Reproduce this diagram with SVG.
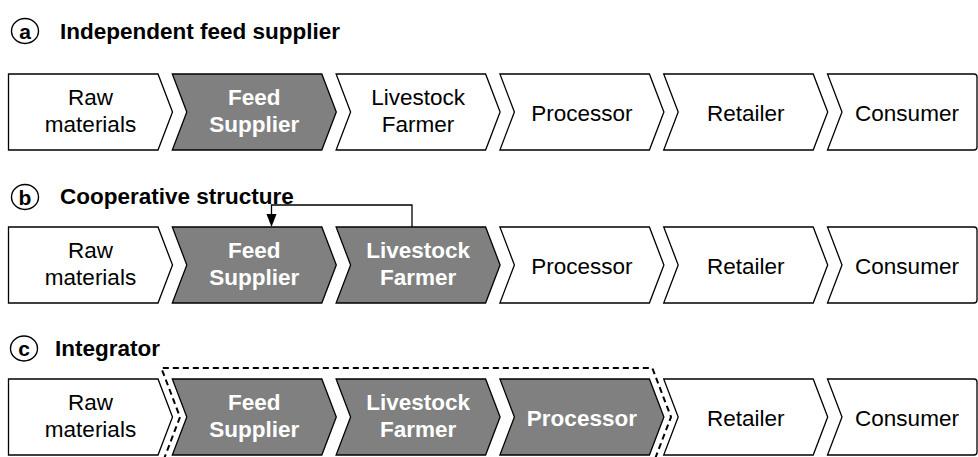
<svg xmlns="http://www.w3.org/2000/svg" width="978" height="457" viewBox="0 0 978 457">
<defs>
<style>
.w{fill:#ffffff;stroke:#000;stroke-width:1.3}
.g{fill:#808080;stroke:#000;stroke-width:1.3}
.t{font-family:"Liberation Sans",Arial,sans-serif;font-size:22.5px;text-anchor:middle;fill:#000}
.tw{font-family:"Liberation Sans",Arial,sans-serif;font-size:22.5px;font-weight:bold;text-anchor:middle;fill:#fff}
.h{font-family:"Liberation Sans",Arial,sans-serif;font-size:22.5px;font-weight:bold;fill:#000}
.c{fill:none;stroke:#000;stroke-width:1.4}
.cl{font-family:"Liberation Sans",Arial,sans-serif;font-size:21px;font-weight:bold;text-anchor:middle;fill:#000}
</style>
</defs>
<rect width="978" height="457" fill="#fff"/>

<!-- Row a -->
<g id="title-a">
<ellipse class="c" cx="25" cy="31" rx="13.5" ry="12.5"/>
<text class="cl" x="25" y="38.5">a</text>
<text class="h" x="60" y="38.5">Independent feed supplier</text>
</g>
<g id="a-raw"><path class="w" d="M8.5,74 H158 L172.5,112 L158,150 H8.5 Z"/><text class="t" x="90.5" y="105">Raw</text><text class="t" x="90.5" y="132">materials</text></g>
<g id="a-feed"><path class="g" d="M172.3,74 H321.8 L336.3,112 L321.8,150 H172.3 L186.8,112 Z"/><text class="tw" x="254.3" y="105">Feed</text><text class="tw" x="254.3" y="132">Supplier</text></g>
<g id="a-farmer"><path class="w" d="M336.1,74 H485.6 L500.1,112 L485.6,150 H336.1 L350.6,112 Z"/><text class="t" x="418.1" y="105">Livestock</text><text class="t" x="418.1" y="132">Farmer</text></g>
<g id="a-processor"><path class="w" d="M499.9,74 H649.4 L663.9,112 L649.4,150 H499.9 L514.4,112 Z"/><text class="t" x="581.9" y="120.5">Processor</text></g>
<g id="a-retailer"><path class="w" d="M663.7,74 H813.2 L827.7,112 L813.2,150 H663.7 L678.2,112 Z"/><text class="t" x="745.7" y="120.5">Retailer</text></g>
<g id="a-consumer"><path class="w" d="M827.5,74 H974 Q977,74 977,77 V147 Q977,150 974,150 H827.5 L842,112 Z"/><text class="t" x="907" y="120.5">Consumer</text></g>

<!-- Row b -->
<g id="title-b">
<ellipse class="c" cx="25" cy="197" rx="13.5" ry="12.5"/>
<text class="cl" x="25" y="204.5">b</text>
<text class="h" x="60" y="203.5">Cooperative structure</text>
</g>
<g id="b-raw"><path class="w" d="M8.5,227 H158 L172.5,265 L158,303 H8.5 Z"/><text class="t" x="90.5" y="258">Raw</text><text class="t" x="90.5" y="285">materials</text></g>
<g id="b-feed"><path class="g" d="M172.3,227 H321.8 L336.3,265 L321.8,303 H172.3 L186.8,265 Z"/><text class="tw" x="254.3" y="258">Feed</text><text class="tw" x="254.3" y="285">Supplier</text></g>
<g id="b-farmer"><path class="g" d="M336.1,227 H485.6 L500.1,265 L485.6,303 H336.1 L350.6,265 Z"/><text class="tw" x="418.1" y="258">Livestock</text><text class="tw" x="418.1" y="285">Farmer</text></g>
<g id="b-processor"><path class="w" d="M499.9,227 H649.4 L663.9,265 L649.4,303 H499.9 L514.4,265 Z"/><text class="t" x="581.9" y="273.5">Processor</text></g>
<g id="b-retailer"><path class="w" d="M663.7,227 H813.2 L827.7,265 L813.2,303 H663.7 L678.2,265 Z"/><text class="t" x="745.7" y="273.5">Retailer</text></g>
<g id="b-consumer"><path class="w" d="M827.5,227 H974 Q977,227 977,230 V300 Q977,303 974,303 H827.5 L842,265 Z"/><text class="t" x="907" y="273.5">Consumer</text></g>

<!-- Row c -->
<g id="title-c">
<ellipse class="c" cx="24" cy="348.5" rx="13.5" ry="12.5"/>
<text class="cl" x="24" y="356">c</text>
<text class="h" x="55" y="355.5">Integrator</text>
</g>
<g id="c-raw"><path class="w" d="M8.5,379 H158 L172.5,417 L158,455 H8.5 Z"/><text class="t" x="90.5" y="410">Raw</text><text class="t" x="90.5" y="437">materials</text></g>
<g id="c-feed"><path class="g" d="M172.3,379 H321.8 L336.3,417 L321.8,455 H172.3 L186.8,417 Z"/><text class="tw" x="254.3" y="410">Feed</text><text class="tw" x="254.3" y="437">Supplier</text></g>
<g id="c-farmer"><path class="g" d="M336.1,379 H485.6 L500.1,417 L485.6,455 H336.1 L350.6,417 Z"/><text class="tw" x="418.1" y="410">Livestock</text><text class="tw" x="418.1" y="437">Farmer</text></g>
<g id="c-processor"><path class="g" d="M499.9,379 H649.4 L663.9,417 L649.4,455 H499.9 L514.4,417 Z"/><text class="tw" x="581.9" y="425.5">Processor</text></g>
<g id="c-retailer"><path class="w" d="M663.7,379 H813.2 L827.7,417 L813.2,455 H663.7 L678.2,417 Z"/><text class="t" x="745.7" y="425.5">Retailer</text></g>
<g id="c-consumer"><path class="w" d="M827.5,379 H974 Q977,379 977,382 V452 Q977,455 974,455 H827.5 L842,417 Z"/><text class="t" x="907" y="425.5">Consumer</text></g>

<g id="connectors">
<path d="M412,227 V205 H271.5 V215" fill="none" stroke="#000" stroke-width="1.3"/>
<path d="M266.5,214 L276.5,214 L271.5,227 Z" fill="#000"/>
<path id="integrator-boundary" d="M163.6,460 L180,417 L161.3,368 H652.3 L671,417 L654.6,460" fill="none" stroke="#000" stroke-width="2" stroke-dasharray="6,4"/>
</g>
</svg>
